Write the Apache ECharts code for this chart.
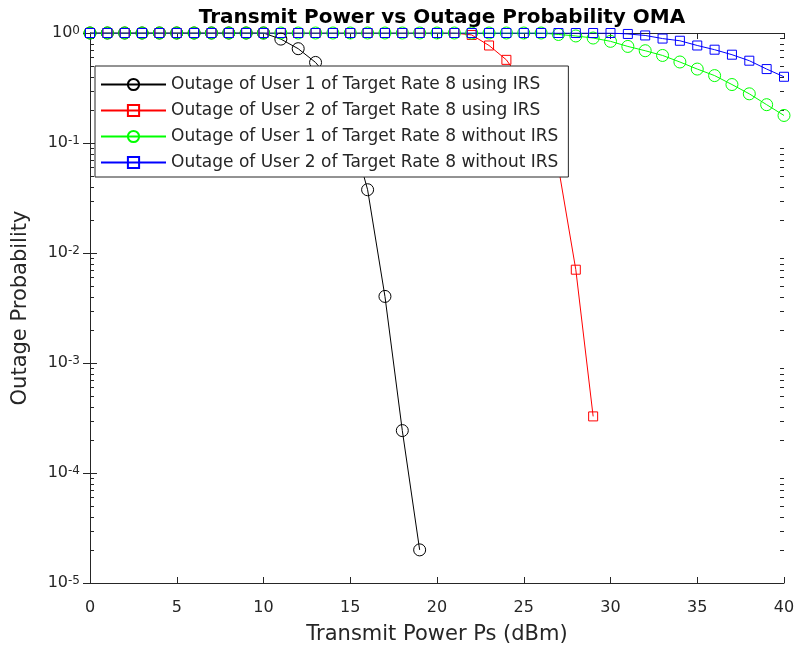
<!DOCTYPE html>
<html>
<head>
<meta charset="utf-8">
<title>Transmit Power vs Outage Probability OMA</title>
<script src="https://cdn.jsdelivr.net/npm/echarts@6/dist/echarts.min.js"></script>
<style>
  html, body { margin: 0; padding: 0; background: #fff; }
  #chart { width: 800px; height: 658px; }
</style>
</head>
<body>
<div id="chart"></div>
<script>
// transmit power (dBm)
var power = [0, 1, 2, 3, 4, 5, 6, 7, 8, 9, 10, 11, 12, 13, 14, 15, 16, 17, 18, 19, 20,
  21, 22, 23, 24, 25, 26, 27, 28, 29, 30, 31, 32, 33, 34, 35, 36, 37, 38, 39, 40];

// outage probabilities
var user1Irs = [1, 1, 1, 1, 1, 1, 1, 1, 1, 1, 1, 0.88, 0.72, 0.54, 0.35, 0.14,
  0.0376, 0.00403, 2.43e-4, 2.0e-5];
var user2Irs = [1, 1, 1, 1, 1, 1, 1, 1, 1, 1, 1, 1, 1, 1, 1, 1, 1, 1, 1, 1, 1, 1,
  0.96, 0.77, 0.57, 0.34, 0.156, 0.06, 0.00705, 3.27e-4];
var user1NoIrs = [1, 1, 1, 1, 1, 1, 1, 1, 1, 1, 1, 1, 1, 1, 1, 1, 1, 1, 1, 1, 1,
  1, 1, 1, 1, 1, 1, 0.97, 0.94, 0.90, 0.84, 0.755, 0.69, 0.625, 0.545, 0.47,
  0.41, 0.34, 0.28, 0.223, 0.178];
var user2NoIrs = [1, 1, 1, 1, 1, 1, 1, 1, 1, 1, 1, 1, 1, 1, 1, 1, 1, 1, 1, 1, 1,
  1, 1, 1, 1, 1, 1, 1, 1, 1, 1, 0.98, 0.95, 0.89, 0.85, 0.77, 0.705, 0.635,
  0.56, 0.47, 0.40];

var seriesNames = [
  'Outage of User 1 of Target Rate 8 using IRS',
  'Outage of User 2 of Target Rate 8 using IRS',
  'Outage of User 1 of Target Rate 8 without IRS',
  'Outage of User 2 of Target Rate 8 without IRS'
];

// log-axis minor ticks (2..9 in every decade)
var minorTicks = [];
for (var e = -5; e < 0; e++) {
  for (var m = 2; m <= 9; m++) {
    minorTicks.push([0, m * Math.pow(10, e)]);
  }
}

var axisColor = '#262626';
var font = 'DejaVu Sans, Liberation Sans, Arial, sans-serif';

function pairs(vals) {
  var out = [];
  for (var i = 0; i < vals.length; i++) out.push([power[i], vals[i]]);
  return out;
}

function lineSeries(name, vals, color, symbol, size) {
  return {
    name: name,
    type: 'line',
    data: pairs(vals),
    color: color,
    symbol: symbol,
    symbolSize: size,
    showAllSymbol: true,
    lineStyle: { color: color, width: 1 },
    itemStyle: { color: 'rgba(0,0,0,0)', borderColor: color, borderWidth: 1 },
    emphasis: { disabled: true },
    z: 3
  };
}

function supLabel(v) {
  var ex = Math.round(Math.log10(v));
  return '{b|10}{s|' + ex + '}';
}

var chart = echarts.init(document.getElementById('chart'), null, { renderer: 'canvas' });

var option = {
  animation: false,
  backgroundColor: '#fff',
  textStyle: { fontFamily: font },
  title: {
    text: 'Transmit Power vs Outage Probability OMA',
    left: 437,
    textAlign: 'center',
    top: 3,
    textStyle: { fontSize: 20, fontWeight: 'bold', color: '#000', fontFamily: font }
  },
  grid: { left: 90, right: 16, top: 33, bottom: 75, containLabel: false },
  legend: {
    data: seriesNames,
    orient: 'vertical',
    left: 95,
    top: 66,
    itemWidth: 65,
    itemHeight: 14,
    itemGap: 9,
    padding: [10, 10, 6, 5],
    backgroundColor: '#fff',
    borderColor: axisColor,
    borderWidth: 1,
    borderRadius: 0,
    selectedMode: false,
    textStyle: { fontSize: 17, color: axisColor, fontFamily: font },
    z: 10
  },
  xAxis: [{
    type: 'value',
    min: 0,
    max: 40,
    interval: 5,
    name: 'Transmit Power Ps (dBm)',
    nameLocation: 'middle',
    nameGap: 41,
    nameTextStyle: { fontSize: 21, color: axisColor },
    axisLine: { lineStyle: { color: axisColor } },
    axisTick: { inside: true, length: 6, lineStyle: { color: axisColor } },
    axisLabel: { fontSize: 16, color: axisColor, margin: 17 },
    splitLine: { show: false }
  }, {
    type: 'value',
    position: 'top',
    min: 0,
    max: 40,
    interval: 5,
    axisLine: { lineStyle: { color: axisColor } },
    axisTick: { inside: true, length: 6, lineStyle: { color: axisColor } },
    axisLabel: { show: false },
    splitLine: { show: false }
  }],
  yAxis: [{
    type: 'log',
    logBase: 10,
    min: 1e-5,
    max: 1,
    name: 'Outage Probability',
    nameLocation: 'middle',
    nameGap: 59,
    nameTextStyle: { fontSize: 21, color: axisColor },
    axisLine: { show: true, lineStyle: { color: axisColor } },
    axisTick: { inside: true, length: 7, lineStyle: { color: axisColor } },
    axisLabel: {
      margin: 10,
      formatter: supLabel,
      rich: {
        b: { fontSize: 16, color: axisColor, lineHeight: 16, verticalAlign: 'bottom', padding: [7, 0, 0, 0] },
        s: { fontSize: 12, color: axisColor, lineHeight: 12, verticalAlign: 'top' }
      }
    },
    splitLine: { show: false }
  }, {
    type: 'log',
    logBase: 10,
    min: 1e-5,
    max: 1,
    position: 'right',
    axisLine: { show: true, lineStyle: { color: axisColor } },
    axisTick: { inside: true, length: 7, lineStyle: { color: axisColor } },
    axisLabel: { show: false },
    splitLine: { show: false }
  }],
  series: [
    {
      name: 'minor ticks',
      type: 'custom',
      data: minorTicks,
      silent: true,
      z: 1,
      renderItem: function (params, api) {
        var p = api.coord([api.value(0), api.value(1)]);
        var cs = params.coordSys;
        var y = Math.round(p[1]) + 0.5;
        var st = { stroke: axisColor, lineWidth: 1 };
        return {
          type: 'group',
          children: [
            { type: 'line', shape: { x1: cs.x, y1: y, x2: cs.x + 4, y2: y }, style: st },
            { type: 'line', shape: { x1: cs.x + cs.width - 4, y1: y, x2: cs.x + cs.width, y2: y }, style: st }
          ]
        };
      }
    },
    lineSeries(seriesNames[0], user1Irs, '#000000', 'circle', 12),
    lineSeries(seriesNames[1], user2Irs, '#ff0000', 'rect', 9),
    lineSeries(seriesNames[2], user1NoIrs, '#00ff00', 'circle', 12),
    lineSeries(seriesNames[3], user2NoIrs, '#0000ff', 'rect', 9)
  ]
};

chart.setOption(option);
</script>
</body>
</html>
